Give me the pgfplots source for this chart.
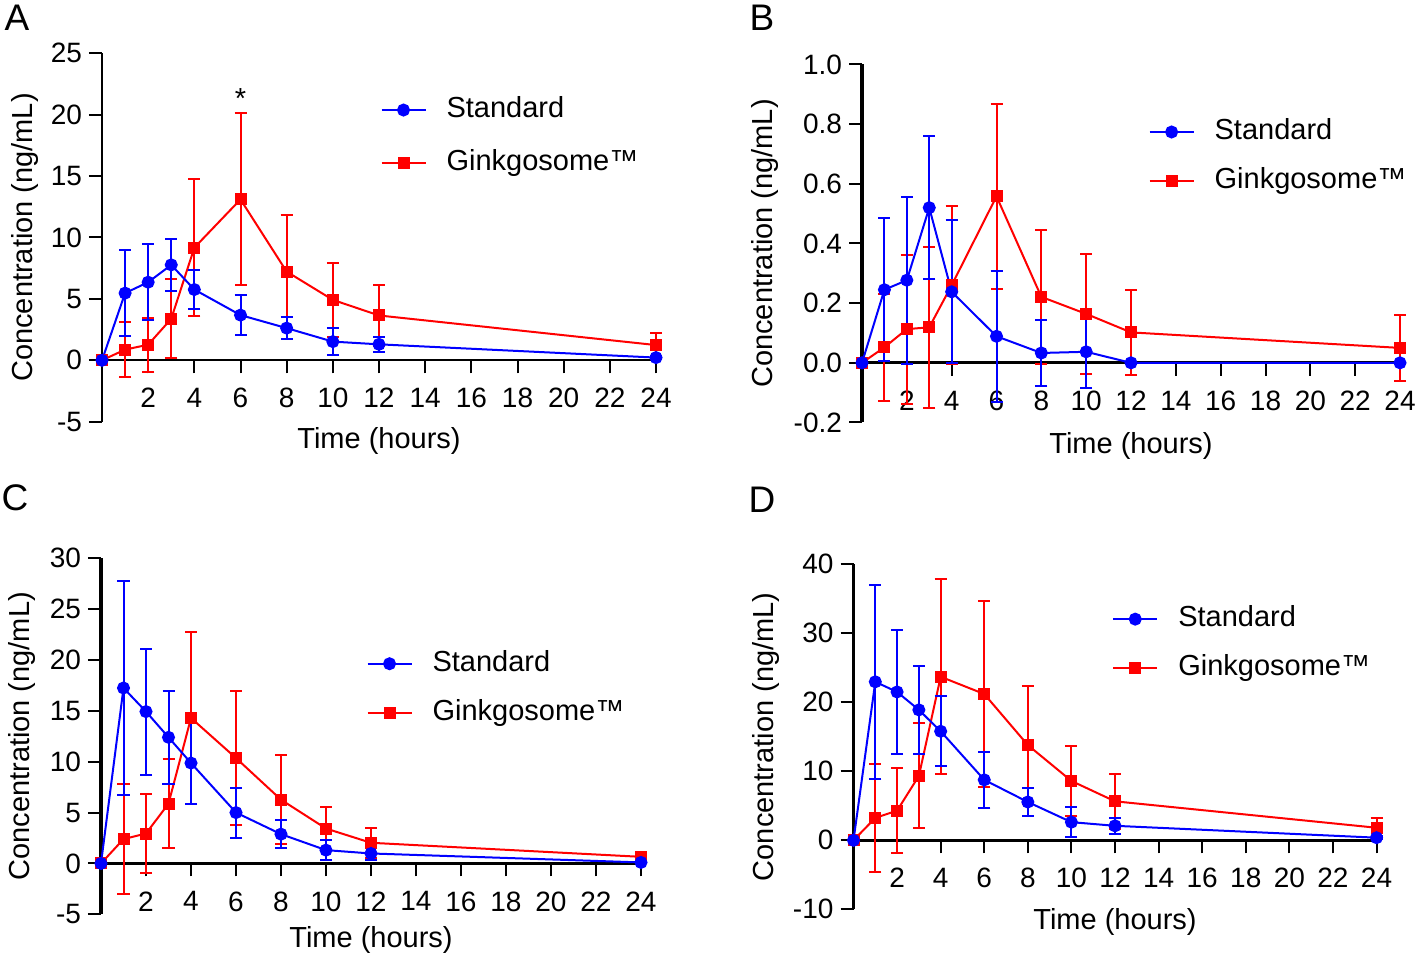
\documentclass[border=0pt]{standalone}
\usepackage{fontspec}
\setmainfont{Liberation Sans}
\usepackage{pgfplots}
\pgfplotsset{compat=1.18}

\pgfplotsset{
  pk/.style={
    scale only axis,
    axis x line*=bottom,
    axis y line*=left,
    xmin=0, xmax=24,
    xtick={0,2,...,24},
    xticklabels={{},2,4,6,8,10,12,14,16,18,20,22,24},
    xtick pos=bottom, ytick pos=left,
    tick align=outside, xtick align=outside,
    major tick length=6.5bp,
    every tick/.style={black, line width=1bp},
    xtick style={draw=black, line width=1bp, solid},
    ytick style={draw=black, line width=1bp, solid},
    tick label style={font=\fontsize{14bp}{16bp}\selectfont},
    xticklabel style={yshift=-4bp},
    /pgf/number format/assume math mode=true,
    legend style={draw=none, fill=none, inner sep=0pt, anchor=west,
      font=\fontsize{14.5bp}{17bp}\selectfont, row sep=11bp, column sep=10bp,
      nodes={inner sep=0pt, text height=10.5bp, text depth=3bp}},
    legend cell align=left,
    reverse legend,
    legend image code/.code={\draw[mark repeat=2,mark phase=2,##1] plot coordinates {(0bp,0bp) (11bp,0bp) (22bp,0bp)};},
    clip=false,
  },
  std/.style={blue, line width=1bp, mark=*, mark size=2.75bp, mark options={solid, fill=blue, draw=blue},
    error bars/.cd, y dir=both, y explicit, error bar style={line width=1bp, blue},
    error mark options={rotate=90, line width=1bp, mark size=3bp, blue}},
  gink/.style={red, line width=1bp, mark=square*, mark size=2.5bp, mark options={solid, fill=red, draw=red},
    error bars/.cd, y dir=both, y explicit, error bar style={line width=1bp, red},
    error mark options={rotate=90, line width=1bp, mark size=3bp, red}},
}

\begin{document}
\begin{tikzpicture}[font=\fontsize{14.5bp}{17bp}\selectfont]
\path[use as bounding box] (0,0) rectangle (708bp,478.5bp);

\node[font=\fontsize{18.5bp}{20bp}\selectfont] at (8.5bp,469.5bp) {A};
\node[font=\fontsize{18.5bp}{20bp}\selectfont] at (381bp,469.5bp) {B};
\node[font=\fontsize{18.5bp}{20bp}\selectfont] at (7.5bp,229.5bp) {C};
\node[font=\fontsize{18.5bp}{20bp}\selectfont] at (381bp,228.5bp) {D};

% ---------------- A ----------------
\begin{axis}[pk, at={(51bp,267.65bp)}, anchor=south west,
  width=277bp, height=184.2bp,
  ymin=-5, ymax=25, ytick={-5,0,...,25},
  axis x line shift=-30.7bp,
  axis line style={-, line width=1bp},
  legend style={at={(0.502,0.774)}, row sep=13bp},
  xlabel={Time (hours)}, ylabel={Concentration (ng/mL)},
  every axis x label/.style={at={(axis description cs:0.5,-0.0523)}, anchor=center},
  every axis y label/.style={at={(axis description cs:-0.139,0.5)}, rotate=90, anchor=center}]
\addplot[gink] coordinates {
 (0,0) +- (0,0) (1,0.87) +- (0,2.26) (2,1.27) +- (0,2.2) (3,3.38) +- (0,3.2)
 (4,9.17) +- (0,5.6) (6,13.1) +- (0,7.0) (8,7.22) +- (0,4.6) (10,4.92) +- (0,3.0)
 (12,3.65) +- (0,2.5) (24,1.24) +- (0,1.0)};
\addlegendentry{Ginkgosome™}
\addplot[std] coordinates {
 (0,0) +- (0,0) (1,5.47) +- (0,3.5) (2,6.36) +- (0,3.1) (3,7.77) +- (0,2.1)
 (4,5.76) +- (0,1.6) (6,3.68) +- (0,1.65) (8,2.62) +- (0,0.9) (10,1.52) +- (0,1.1)
 (12,1.3) +- (0,0.6) (24,0.22) +- (0,0.1)};
\addlegendentry{Standard}
\node at (axis cs:6,21.3) {*};
\end{axis}

% ---------------- B ----------------
\begin{axis}[pk, at={(431bp,267.25bp)}, anchor=south west,
  width=269bp, height=179bp,
  ymin=-0.2, ymax=1.0, ytick={-0.2,0,0.2,0.4,0.6,0.8,1.0},
  yticklabel style={/pgf/number format/.cd, fixed, fixed zerofill, precision=1},
  axis x line shift=-29.83bp,
  axis line style={-, line width=1.6bp},
  legend style={at={(0.532,0.743)}},
  xlabel={Time (hours)}, ylabel={Concentration (ng/mL)},
  every axis x label/.style={at={(axis description cs:0.5,-0.0643)}, anchor=center},
  every axis y label/.style={at={(axis description cs:-0.180,0.5)}, rotate=90, anchor=center}]
\addplot[gink] coordinates {
 (0,0) +- (0,0) (1,0.052) +- (0,0.18) (2,0.113) +- (0,0.25) (3,0.119) +- (0,0.27)
 (4,0.26) +- (0,0.265) (6,0.558) +- (0,0.31) (8,0.221) +- (0,0.225) (10,0.164) +- (0,0.2)
 (12,0.102) +- (0,0.143) (24,0.05) +- (0,0.11)};
\addlegendentry{Ginkgosome™}
\addplot[std] coordinates {
 (0,0) +- (0,0) (1,0.245) +- (0,0.24) (2,0.277) +- (0,0.28) (3,0.52) +- (0,0.24)
 (4,0.238) +- (0,0.24) (6,0.089) +- (0,0.22) (8,0.033) +- (0,0.11) (10,0.037) +- (0,0.12)
 (12,0) +- (0,0) (24,0) +- (0,0)};
\addlegendentry{Standard}
\end{axis}

% ---------------- C ----------------
\begin{axis}[pk, at={(50.5bp,21.35bp)}, anchor=south west,
  width=270bp, height=178bp,
  ymin=-5, ymax=30, ytick={-5,0,...,30},
  axis x line shift=-25.43bp,
  axis line style={-, line width=1.6bp},
  legend style={at={(0.491,0.635)}},
  xlabel={Time (hours)}, ylabel={Concentration (ng/mL)},
  every axis x label/.style={at={(axis description cs:0.5,-0.073)}, anchor=center},
  every axis y label/.style={at={(axis description cs:-0.146,0.5)}, rotate=90, anchor=center}]
\addplot[gink] coordinates {
 (0,0) +- (0,0) (1,2.39) +- (0,5.4) (2,2.94) +- (0,3.85) (3,5.88) +- (0,4.4)
 (4,14.3) +- (0,8.5) (6,10.36) +- (0,6.6) (8,6.27) +- (0,4.35) (10,3.43) +- (0,2.15)
 (12,2.03) +- (0,1.5) (24,0.65) +- (0,0.3)};
\addlegendentry{Ginkgosome™}
\addplot[std] coordinates {
 (0,0) +- (0,0) (1,17.25) +- (0,10.5) (2,14.93) +- (0,6.2) (3,12.4) +- (0,4.6)
 (4,9.87) +- (0,4.0) (6,5.0) +- (0,2.45) (8,2.88) +- (0,1.35) (10,1.31) +- (0,1.0)
 (12,0.98) +- (0,0.6) (24,0.1) +- (0,0.1)};
\addlegendentry{Standard}
\end{axis}

% ---------------- D ----------------
\begin{axis}[pk, at={(426.75bp,23.85bp)}, anchor=south west,
  width=261.5bp, height=172.5bp,
  ymin=-10, ymax=40, ytick={-10,0,...,40},
  axis x line shift=-34.5bp,
  axis line style={-, line width=1.6bp},
  legend style={at={(0.494,0.770)}},
  xlabel={Time (hours)}, ylabel={Concentration (ng/mL)},
  every axis x label/.style={at={(axis description cs:0.5,-0.0377)}, anchor=center},
  every axis y label/.style={at={(axis description cs:-0.168,0.5)}, rotate=90, anchor=center}]
\addplot[gink] coordinates {
 (0,0) +- (0,0) (1,3.25) +- (0,7.8) (2,4.3) +- (0,6.2) (3,9.33) +- (0,7.6)
 (4,23.7) +- (0,14.1) (6,21.2) +- (0,13.5) (8,13.8) +- (0,8.6) (10,8.6) +- (0,5.05)
 (12,5.65) +- (0,4.0) (24,1.82) +- (0,1.4)};
\addlegendentry{Ginkgosome™}
\addplot[std] coordinates {
 (0,0) +- (0,0) (1,22.97) +- (0,14.1) (2,21.5) +- (0,9.0) (3,18.9) +- (0,6.4)
 (4,15.8) +- (0,5.1) (6,8.76) +- (0,4.05) (8,5.55) +- (0,2.05) (10,2.63) +- (0,2.15)
 (12,2.1) +- (0,1.2) (24,0.38) +- (0,0.2)};
\addlegendentry{Standard}
\end{axis}
\end{tikzpicture}
\end{document}
